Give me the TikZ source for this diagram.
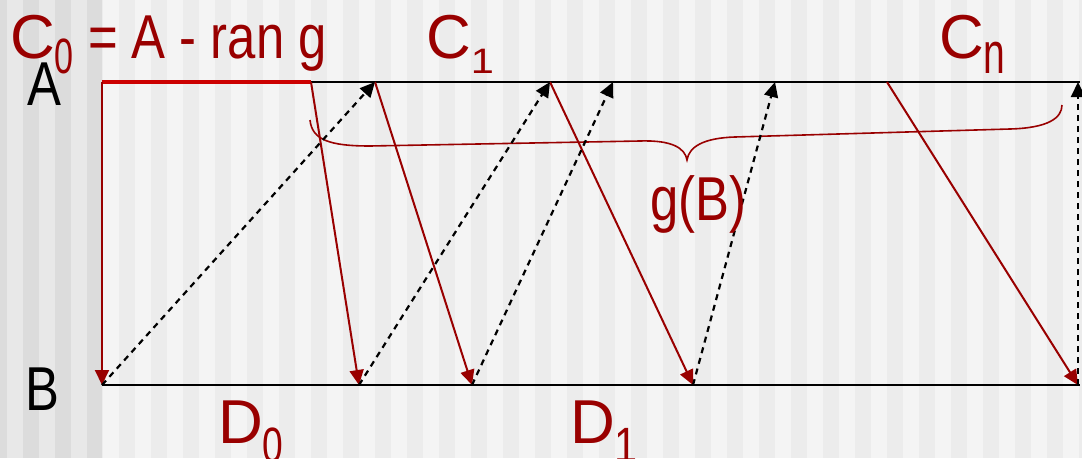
\documentclass[tikz,border=0pt]{standalone}
\usepackage{fontspec}
\setmainfont{Liberation Sans}
\newfontfamily\narrowfont[FakeStretch=0.82]{Liberation Sans}
\usetikzlibrary{arrows.meta}
\definecolor{maroon}{HTML}{990000}
\definecolor{brightred}{HTML}{CC0000}
\definecolor{stripelight}{HTML}{F4F4F4}
\definecolor{stripedark}{HTML}{ECECEC}
\definecolor{sidelight}{HTML}{E8E8E8}
\definecolor{sidedark}{HTML}{DCDCDC}
\newcommand{\lowsub}[4]{\raisebox{-#3}{\scalebox{#1}[#2]{#4}}}

\begin{document}
\begin{tikzpicture}[x=1pt, y=-1pt, every node/.style={font=\fontsize{62}{62}\selectfont, inner sep=0pt},
      setline/.style={black, line width=2.5pt},
      topred/.style={brightred, line width=4pt},
      maparr/.style={maroon, line width=2pt, -{Triangle[length=15pt,width=14pt]}},
      backarr/.style={black, line width=2.2pt, dash pattern=on 6pt off 5pt, -{Triangle[length=15pt,width=14pt]}},
      brace/.style={maroon, line width=1.6pt},
      lbl/.style={text=maroon, anchor=base west}]
    \useasboundingbox (0,0) rectangle (1082,458);
    \fill[stripelight] (0,0) rectangle (1082,458);
    \foreach \j in {0,...,33} \fill[stripedark] (23+32*\j,0) rectangle +(16,458);
    \fill[sidelight] (0,0) rectangle (102,458);
    \foreach \x/\w in {0/7,23/16,55/16,87/15} \fill[sidedark] (\x,0) rectangle +(\w,458);
    \coordinate (a0) at (102,82); \coordinate (a1) at (311,82); \coordinate (a2) at (375,82);
    \coordinate (a3) at (550,82); \coordinate (a4) at (613,82); \coordinate (a5) at (775,82);
    \coordinate (a6) at (887,82); \coordinate (a7) at (1078,82); \coordinate (aend) at (1080,82);
    \coordinate (b0) at (102,385); \coordinate (b1) at (359,385); \coordinate (b2) at (472,385);
    \coordinate (b3) at (693,385); \coordinate (b4) at (1078,385); \coordinate (bend) at (1080,385);
    \draw[setline] (a0) -- (aend); \draw[setline] (b0) -- (bend); \draw[topred] (a0) -- (a1);
    \draw[brace] (310,120) .. controls (312,140) and (330,146) .. (370,146) -- (640,141)
      .. controls (672,140) and (685,148) .. (687,160) .. controls (689,147) and (703,138) .. (735,137)
      -- (1010,129) .. controls (1048,128) and (1062,118) .. (1062,105);
    \draw[maparr] (a0) -- (b0); \draw[maparr] (a1) -- (b1); \draw[maparr] (a2) -- (b2);
    \draw[maparr] (a3) -- (b3); \draw[maparr] (a6) -- (b4);
    \draw[backarr] (b0) -- (a2); \draw[backarr] (b1) -- (a3); \draw[backarr] (b2) -- (a4);
    \draw[backarr] (b3) -- (a5); \draw[backarr] (b4) -- (a7);
    \node[lbl] (c0) at (10,58) {C\lowsub{0.55}{0.8}{15pt}{0}{\narrowfont\ = A - ran g}};
    \node[lbl] (c1) at (426,58) {C\lowsub{0.67}{0.57}{15pt}{1}};
    \node[lbl] (cn) at (939,58) {C\lowsub{0.63}{0.94}{15pt}{n}};
    \node[lbl] (d0) at (218,443) {D\lowsub{0.6}{0.8}{19pt}{0}};
    \node[lbl] (d1) at (570,443) {D\lowsub{0.67}{0.8}{19pt}{1}};
    \node[lbl] (gb) at (650,220) {\narrowfont g(B)};
    \node[anchor=base west] (alab) at (27,105) {\narrowfont A};
    \node[anchor=base west] (blab) at (25,410) {\narrowfont B};
  \end{tikzpicture}
\end{document}
